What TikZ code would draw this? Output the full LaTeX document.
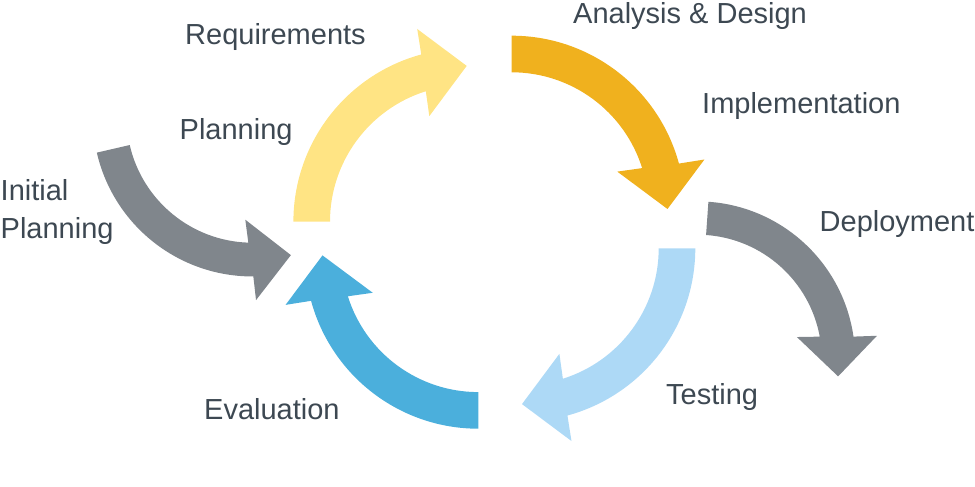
\documentclass[tikz,border=0pt]{standalone}
\usepackage{fontspec}
\setmainfont{Liberation Sans}
\definecolor{txt}{RGB}{61,72,82}
\definecolor{cyyellow}{RGB}{255,228,132}
\definecolor{cyorange}{RGB}{240,177,30}
\definecolor{cylight}{RGB}{173,217,246}
\definecolor{cyblue}{RGB}{75,175,220}
\definecolor{cygray}{RGB}{128,134,140}
% One bent arrow: ring segment from the tail angle (#2) clockwise to a
% triangular head whose tip points along the tangent at angle 0.
\newcommand\cyclearrow[2]{%
  \begin{scope}[#1]
    \fill (#2:173.3) arc[start angle=#2, end angle=15.2, radius=173.3]
      -- (14.4:199) -- (0:155.8) -- (19.5:112) -- (17.4:136.7)
      arc[start angle=17.4, end angle=#2, radius=136.7] -- cycle;
  \end{scope}}
\tikzset{
  steplabel/.style={anchor=base west, inner sep=0pt, text=txt,
    font=\fontsize{29}{35}\selectfont, align=left},
}
\begin{document}
\begin{tikzpicture}[x=1pt, y=1pt]
  \useasboundingbox (0,0) rectangle (975,487);
  % centres of the bent arrows
  \coordinate (cReq)  at (466.7,265.3);
  \coordinate (cImpl) at (511.7,278.0);
  \coordinate (cTest) at (522.0,238.7);
  \coordinate (cEval) at (478.3,231.6);
  \coordinate (cInit) at (252.5,370.3);
  \coordinate (cDepl) at (697.4,127.9);

  % main cycle
  \cyclearrow{shift={(cReq)}, rotate=90, fill=cyyellow}{90}
  \cyclearrow{shift={(cImpl)}, fill=cyorange}{90}
  \cyclearrow{shift={(cTest)}, rotate=-90, fill=cylight}{90}
  \cyclearrow{shift={(cEval)}, rotate=180, fill=cyblue}{90}
  % entry and exit arrows
  \cyclearrow{shift={(cInit)}, rotate=105.5, xscale=-1, scale=0.922, fill=cygray}{92.5}
  \cyclearrow{shift={(cDepl)}, rotate=-7, scale=0.91, fill=cygray}{93}

  % labels
  \node[steplabel] (req)  at (185,442) {Requirements};
  \node[steplabel] (plan) at (179.5,347) {Planning};
  \node[steplabel] (init) at (0.5,286.3) {Initial};
  \node[steplabel] (initp) at (0.5,248.7) {Planning};
  \node[steplabel] (ana)  at (573,463.7) {Analysis \& Design};
  \node[steplabel] (impl) at (702,373.7) {Implementation};
  \node[steplabel] (depl) at (819.5,255.3) {Deployment};
  \node[steplabel] (test) at (666,82) {Testing};
  \node[steplabel] (eval) at (204,67) {Evaluation};
\end{tikzpicture}
\end{document}
